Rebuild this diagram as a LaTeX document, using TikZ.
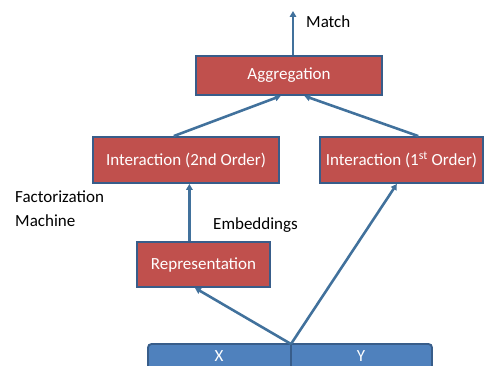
\documentclass[tikz,border=0pt]{standalone}
\usepackage{fontspec}
\setmainfont{Carlito}
\usetikzlibrary{arrows.meta}
\definecolor{boxred}{HTML}{C0504D}
\definecolor{boxline}{HTML}{385D8A}
\definecolor{arrowblue}{HTML}{41719C}
\definecolor{barblue}{HTML}{4F81BD}

\begin{document}
\begin{tikzpicture}[x=0.03cm, y=-0.03cm,
    layer/.style={draw=boxline, line width=1.6pt, fill=boxred, text=white, inner sep=0pt, font=\fontsize{14.5}{17}\selectfont},
    flow/.style={draw=arrowblue, line width=2.2pt, -{Triangle[length=5pt, width=5.5pt]}},
    note/.style={font=\fontsize{14.5}{20}\selectfont, inner sep=0pt}]
        \useasboundingbox (0,0) rectangle (484,365);

        % Input bar
        \draw[boxline, line width=1.6pt, fill=barblue, rounded corners=3pt] (148,344) rectangle (432,395);
        \draw[boxline, line width=1.6pt] (291,344) -- (291,395);
        \coordinate (apex) at (291,344);
        \node[note, text=white] (x) at (219,356) {X};
        \node[note, text=white] (y) at (361,356) {Y};

        % Boxes
        \node[layer, minimum width=133*0.03cm, minimum height=45*0.03cm] (rep) at (203.5,264.5) {Representation};
        \node[layer, minimum width=186*0.03cm, minimum height=46*0.03cm] (int2) at (186,160) {Interaction (2nd Order)};
        \node[layer, minimum width=163*0.03cm, minimum height=46*0.03cm] (int1) at (401.5,160) {Interaction (1\textsuperscript{st} Order)};
        \node[layer, minimum width=186*0.03cm, minimum height=39*0.03cm] (agg) at (289,75.5) {Aggregation};

        % Arrows
        \draw[flow] (apex) -- (rep.250);
        \draw[flow] (apex) -- (int1.259);
        \draw[flow] (rep.121) -- (rep.121 |- int2.south);
        \draw[flow] (int2.117) -- (agg.248);
        \draw[flow] (int1.55) -- (agg.307);
        \coordinate (out) at (293,11);
        \draw[flow] (agg.north -| out) -- (out);

        % Labels
        \node[note, anchor=west] (match) at (306,22) {Match};
        \node[note, anchor=north west, align=left] (fm) at (15,191) {Factorization\\Machine};
        \node[note, anchor=west] (emb) at (213,225) {Embeddings};
    \end{tikzpicture}
\end{document}
